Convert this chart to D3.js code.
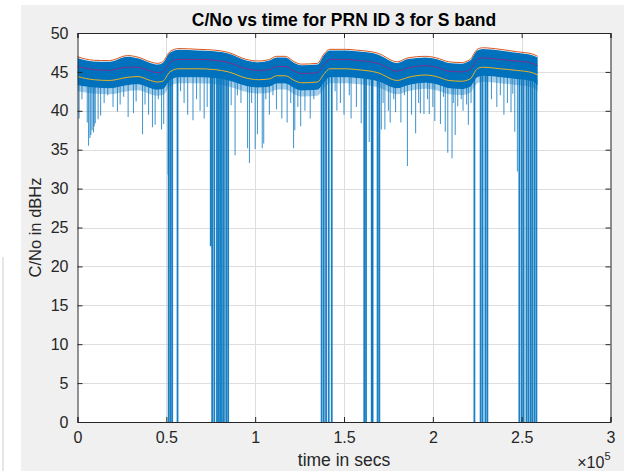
<!DOCTYPE html>
<html>
<head>
<meta charset="utf-8">
<script src="https://cdn.jsdelivr.net/npm/d3@7"></script>
<style>
  body { margin: 0; background: #fff; }
  svg { display: block; font-family: "Liberation Sans", Arial, sans-serif; }
</style>
</head>
<body>
<div id="chart"></div>
<script>
const timeKnots = [0, 9000, 18000, 28000, 34000, 41000, 45000, 48000, 52000, 57000,
  68000, 77000, 85000, 95000, 102000, 108000, 112000, 117000, 122000, 126000,
  135000, 139000, 142000, 151000, 157000, 169000, 180000, 186000, 196000, 202000,
  209000, 216000, 221000, 225000, 228000, 238000, 247000, 256000, 259000]

const upperLine = [46.95, 46.5, 46.45, 47.1, 46.9, 46.3, 46.1, 46.3, 47.6, 48.0,
  47.9, 47.8, 47.5, 46.6, 46.4, 46.6, 47.0, 47.0, 46.3, 46.0,
  46.1, 47.4, 47.9, 47.9, 47.8, 47.4, 46.3, 46.8, 47.0, 46.8,
  46.3, 46.2, 46.6, 47.9, 48.1, 47.9, 47.6, 47.3, 47.0]

const meanLine = [45.7, 45.3, 45.2, 45.6, 45.6, 45.1, 44.9, 45.0, 46.2, 46.6,
  46.6, 46.5, 46.2, 45.4, 45.2, 45.3, 45.7, 45.7, 45.1, 44.8,
  44.9, 46.0, 46.6, 46.6, 46.5, 46.1, 45.1, 45.5, 45.8, 45.6,
  45.1, 45.0, 45.3, 46.6, 46.8, 46.6, 46.4, 46.1, 45.8]

const lowerLine = [44.4, 44.0, 43.9, 44.3, 44.4, 43.9, 43.7, 43.8, 45.0, 45.4,
  45.4, 45.3, 45.0, 44.2, 44.0, 44.1, 44.5, 44.5, 43.9, 43.6,
  43.7, 44.8, 45.4, 45.4, 45.3, 44.9, 43.9, 44.3, 44.6, 44.4,
  43.9, 43.8, 44.1, 45.4, 45.6, 45.4, 45.2, 44.9, 44.6]

// dense part of the raw C/No trace
const bandTop = [46.8, 46.35, 46.3, 46.95, 46.75, 46.15, 45.95, 46.15, 47.45, 47.85,
  47.75, 47.65, 47.35, 46.45, 46.25, 46.45, 46.85, 46.85, 46.15, 45.85,
  45.95, 47.25, 47.75, 47.75, 47.65, 47.25, 46.15, 46.65, 46.85, 46.65,
  46.15, 46.05, 46.45, 47.75, 47.95, 47.75, 47.45, 47.15, 46.85]

const bandBottom = [43.3, 43.0, 42.9, 43.3, 43.4, 42.9, 42.7, 42.8, 43.9, 44.3,
  44.3, 44.2, 43.9, 43.2, 43.0, 43.1, 43.5, 43.5, 42.9, 42.6,
  42.7, 43.7, 44.3, 44.3, 44.2, 43.8, 42.9, 43.3, 43.6, 43.4,
  42.9, 42.8, 43.1, 44.3, 44.5, 44.3, 44.1, 43.8, 43.3]

// drops of the raw trace: time (secs) and lowest C/No reached
const spikeTimes = [900, 2500, 5500, 6200, 7000, 7500, 8200, 9000, 9400, 10000, 11600,
  13000, 15000, 17000, 20000, 22500, 24000, 26000, 28500, 31500, 33000, 36600, 38000,
  40000, 42200, 43700, 45500, 47300, 48500,
  51000, 51300, 52300, 53300, 56300,
  58000, 60000, 62000, 65000, 67000, 69000, 71300, 73000,
  75000, 75800, 77000, 78500, 79400, 80300, 81300, 82400, 83700, 84800,
  86500, 88700, 90000, 92000, 95700, 96800, 98000, 100000, 101300, 104000, 104800, 106000, 108000,
  110000, 112000, 115000, 118000, 120000, 121600, 122300, 124000, 125600, 128000, 131000, 133000,
  137400, 138600, 139900, 141400, 143100,
  145000, 146000, 148000, 150000, 153000, 154000, 157000, 159700,
  161400, 162400, 164200, 165600, 166100, 168900, 169900, 171000,
  172000, 173000, 175000, 176000, 178000, 179000, 182000, 184000, 185700, 188000, 190300,
  192000, 193000, 195000, 197000, 198000, 200000, 201100, 204300, 206000, 207000, 208400,
  210800, 211500, 212600, 214000, 216000, 217000, 219000, 220000, 221500,
  223400, 226900, 228000, 229600, 230700,
  233000, 236000, 238000, 240000, 242000, 244000, 245000, 246100,
  247600, 248700, 250000, 251100, 252700, 253800, 255000, 256000, 257200, 258300]

const spikeMins = [39.0, 41.5, 38.5, 35.5, 36.5, 36.9, 37.5, 37.2, 38.0, 38.4, 38.9,
  39.4, 41.0, 42.0, 40.5, 39.9, 40.8, 41.8, 39.2, 39.7, 41.2, 37.0, 40.8,
  39.5, 37.9, 38.2, 41.5, 37.6, 38.3,
  31.8, 0, 0, 0, 0,
  42.5, 41.0, 39.5, 38.8, 41.5, 40.0, 39.0, 40.5,
  22.6, 0, 0, 0, 0, 0, 0, 0, 0, 0,
  40.7, 34.3, 42.0, 41.0, 35.2, 33.3, 41.0, 35.1, 37.0, 35.2, 35.8, 41.5, 39.5,
  42.0, 40.2, 39.0, 38.5, 41.0, 35.2, 37.5, 40.5, 38.0, 40.0, 39.0, 41.5,
  0, 0, 0, 0, 0,
  42.5, 40.0, 41.0, 39.5, 42.0, 39.0, 40.5, 38.4,
  0, 0, 36.0, 0, 0, 0, 0, 37.6,
  41.0, 37.6, 40.0, 38.5, 41.5, 39.8, 38.5, 42.0, 32.9, 39.5, 37.1,
  41.0, 39.7, 39.6, 41.5, 39.6, 40.5, 38.7, 38.3, 41.8, 37.3, 34.6,
  33.9, 41.0, 36.9, 40.6, 41.5, 40.0, 40.8, 38.2, 41.0,
  0, 0, 0, 0, 0,
  41.5, 40.5, 42.0, 39.5, 41.0, 39.8, 42.2, 37.3,
  32.2, 0, 0, 0, 0, 0, 0, 0, 0, 0]

const xTicks = [0, 50000, 100000, 150000, 200000, 250000, 300000]
const yTicks = [0, 5, 10, 15, 20, 25, 30, 35, 40, 45, 50]

const lineColors = {upper: "#D95319", mean: "#7E2F8E", lower: "#EDB120", raw: "#0072BD"}

drawChart("#chart")

function drawChart(id){
  const canvas = createCanvas()
  const svg = addSvg(id, canvas)
  const sc = addScales(canvas)

  addBackground(svg, canvas)
  addGrid(svg, sc, canvas)
  addRawTrace(svg, sc, canvas)
  addSmoothLines(svg, sc)
  addAxes(svg, sc, canvas)
  addLabels(svg, canvas)
}

function createCanvas(){
  return {
    width: 624, height: 471,
    margin: {top: 33, right: 13.5, bottom: 49, left: 77.5}
  }
}

function addSvg(id, canvas){
  return d3.select(id).append("svg")
    .attr("width", canvas.width).attr("height", canvas.height)
}

function addScales(canvas){
  const xScale = d3.scaleLinear().domain([0, 300000])
    .range([canvas.margin.left, canvas.width - canvas.margin.right])
  const yScale = d3.scaleLinear().domain([0, 50])
    .range([canvas.height - canvas.margin.bottom, canvas.margin.top])
  return {xScale, yScale}
}

function addBackground(svg, canvas){
  svg.append("rect").attr("x", 21).attr("y", 5)
    .attr("width", canvas.width - 21).attr("height", canvas.height - 5)
    .attr("fill", "#f0f0f0")
  svg.append("line").attr("x1", 3).attr("x2", 3).attr("y1", 257).attr("y2", canvas.height)
    .attr("stroke", "#e6e6e6").attr("stroke-width", 2)
  svg.append("rect").attr("x", canvas.margin.left).attr("y", canvas.margin.top)
    .attr("width", canvas.width - canvas.margin.left - canvas.margin.right)
    .attr("height", canvas.height - canvas.margin.top - canvas.margin.bottom)
    .attr("fill", "#fff")
  svg.append("clipPath").attr("id", "plot-clip").append("rect")
    .attr("x", canvas.margin.left).attr("y", canvas.margin.top)
    .attr("width", canvas.width - canvas.margin.left - canvas.margin.right)
    .attr("height", canvas.height - canvas.margin.top - canvas.margin.bottom)
}

function addGrid(svg, sc, canvas){
  const g = svg.append("g").attr("stroke", "#dedede").attr("stroke-width", 1)
  g.selectAll(".vg").data(xTicks.slice(1, -1)).enter().append("line")
    .attr("x1", d => Math.round(sc.xScale(d)) + 0.5).attr("x2", d => Math.round(sc.xScale(d)) + 0.5)
    .attr("y1", canvas.margin.top).attr("y2", canvas.height - canvas.margin.bottom)
  g.selectAll(".hg").data(yTicks.slice(1, -1)).enter().append("line")
    .attr("y1", d => Math.round(sc.yScale(d)) + 0.5).attr("y2", d => Math.round(sc.yScale(d)) + 0.5)
    .attr("x1", canvas.margin.left).attr("x2", canvas.width - canvas.margin.right)
}

function interpAt(t, values){
  const i = Math.max(1, Math.min(timeKnots.length - 1, d3.bisectLeft(timeKnots, t)))
  const t0 = timeKnots[i - 1], t1 = timeKnots[i]
  const f = Math.max(0, Math.min(1, (t - t0) / (t1 - t0)))
  return values[i - 1] + f * (values[i] - values[i - 1])
}

function addRawTrace(svg, sc, canvas){
  const g = svg.append("g").attr("clip-path", "url(#plot-clip)")
  const band = timeKnots.map((t, i) => ({t, top: bandTop[i], bot: bandBottom[i]}))

  // soft lower fringe of the noisy trace
  const fringe = d3.area().x(d => sc.xScale(d.t))
    .y0(d => sc.yScale(d.bot) + 6).y1(d => sc.yScale(d.bot))
    .curve(d3.curveMonotoneX)
  g.append("path").datum(band).attr("fill", lineColors.raw).attr("fill-opacity", 0.35).attr("d", fringe)

  const area = d3.area().x(d => sc.xScale(d.t))
    .y0(d => sc.yScale(d.bot)).y1(d => sc.yScale(d.top))
    .curve(d3.curveMonotoneX)
  g.append("path").datum(band).attr("fill", lineColors.raw).attr("d", area)

  const spikes = spikeTimes.map((t, i) => ({t, min: spikeMins[i]}))
  g.selectAll(".spike").data(spikes).enter().append("line").attr("class", "spike")
    .attr("x1", d => sc.xScale(d.t)).attr("x2", d => sc.xScale(d.t))
    .attr("y1", d => sc.yScale(interpAt(d.t, bandBottom) + 0.5))
    .attr("y2", d => sc.yScale(d.min))
    .attr("stroke", lineColors.raw).attr("stroke-width", d => d.min < 30 ? 1.8 : 1.1)
    .attr("stroke-opacity", d => d.min < 30 ? 0.9 : 0.7)
}

function addSmoothLines(svg, sc){
  const series = [
    {vals: upperLine, color: lineColors.upper},
    {vals: meanLine, color: lineColors.mean},
    {vals: lowerLine, color: lineColors.lower}
  ]
  series.forEach(s => {
    const line = d3.line().x((d, i) => sc.xScale(timeKnots[i])).y(d => sc.yScale(d))
      .curve(d3.curveMonotoneX)
    svg.append("path").datum(s.vals).attr("fill", "none").attr("stroke", s.color)
      .attr("stroke-width", 1).attr("d", line)
  })
}

function addAxes(svg, sc, canvas){
  const fmtX = d => d3.format("~g")(d / 100000)
  const bottom = canvas.height - canvas.margin.bottom
  const right = canvas.width - canvas.margin.right

  const gx = svg.append("g").attr("transform", `translate(0, ${bottom})`)
    .call(d3.axisBottom(sc.xScale).tickValues(xTicks).tickFormat(fmtX).tickSize(-5).tickPadding(10))
  const gy = svg.append("g").attr("transform", `translate(${canvas.margin.left}, 0)`)
    .call(d3.axisLeft(sc.yScale).tickValues(yTicks).tickSize(-5).tickPadding(9))
  const gt = svg.append("g").attr("transform", `translate(0, ${canvas.margin.top})`)
    .call(d3.axisTop(sc.xScale).tickValues(xTicks).tickFormat("").tickSize(-5))
  const gr = svg.append("g").attr("transform", `translate(${right}, 0)`)
    .call(d3.axisRight(sc.yScale).tickValues(yTicks).tickFormat("").tickSize(-5))

  ;[gx, gy, gt, gr].forEach(g => {
    g.select(".domain").attr("stroke", "#262626").attr("stroke-width", 1)
    g.selectAll(".tick line").attr("stroke", "#262626")
    g.selectAll("text").attr("fill", "#262626").attr("font-size", "16px")
      .attr("font-family", "Liberation Sans, Arial, sans-serif")
  })
}

function addLabels(svg, canvas){
  const mid = (canvas.margin.left + canvas.width - canvas.margin.right) / 2
  svg.append("text").attr("x", mid).attr("y", 26)
    .attr("text-anchor", "middle").attr("font-size", "17.5px").attr("font-weight", "bold")
    .attr("fill", "#000").text("C/No vs time for PRN ID 3 for S band")

  svg.append("text").attr("x", mid).attr("y", 466)
    .attr("text-anchor", "middle").attr("font-size", "17.5px").attr("fill", "#262626")
    .text("time in secs")

  svg.append("text").attr("transform", `translate(41, ${(canvas.margin.top + canvas.height - canvas.margin.bottom) / 2}) rotate(-90)`)
    .attr("text-anchor", "middle").attr("font-size", "16.5px").attr("fill", "#262626")
    .text("C/No in dBHz")

  const ex = svg.append("text").attr("x", canvas.width - canvas.margin.right).attr("y", 468)
    .attr("text-anchor", "end").attr("font-size", "16px").attr("fill", "#262626")
  ex.append("tspan").text("×10")
  ex.append("tspan").attr("dy", -8).attr("font-size", "11px").text("5")
}
</script>
</body>
</html>
